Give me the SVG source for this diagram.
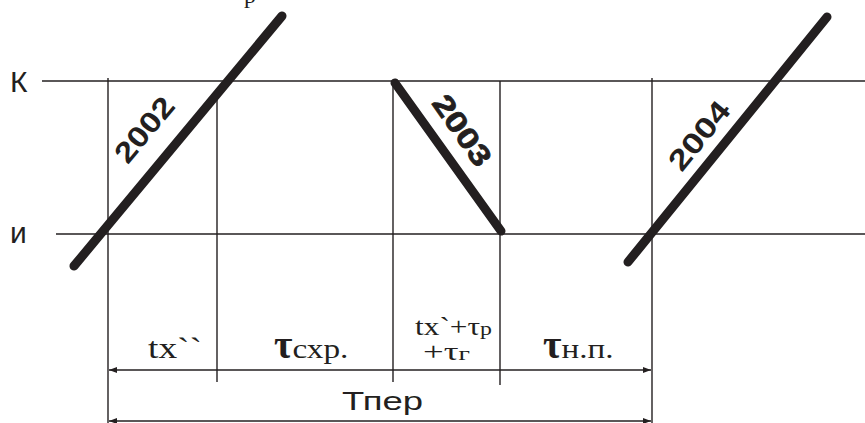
<svg xmlns="http://www.w3.org/2000/svg" width="865" height="423" viewBox="0 0 865 423">
<defs>
<style>
.thin{stroke:#231f20;stroke-width:1.4;fill:none}
.thick{stroke:#231f20;stroke-width:9;stroke-linecap:round;fill:none}
.sans{font-family:"Liberation Sans",Arial,sans-serif;fill:#231f20}
.serif{font-family:"Liberation Serif","Times New Roman",serif;fill:#231f20}
.yr{font-family:"Liberation Sans",Arial,sans-serif;font-weight:bold;fill:#231f20;font-size:29px}
.tau{font-weight:bold}
</style>
<marker id="ah" viewBox="0 0 8 6" refX="8" refY="3" markerWidth="8" markerHeight="6" markerUnits="userSpaceOnUse" orient="auto-start-reverse">
<path d="M0,0 L8,3 L0,6 z" fill="#231f20"/>
</marker>
</defs>
<rect width="865" height="423" fill="#fff"/>
<text class="serif" x="244" y="3" font-size="24">р</text>
<g id="axes">
<text class="sans" x="10" y="92" font-size="30">К</text>
<text class="sans" x="10" y="243" font-size="30">и</text>
</g>
<g id="connectors">
<line class="thin" x1="42" y1="81" x2="865" y2="81"/>
<line class="thin" x1="56" y1="234" x2="865" y2="234"/>
<line class="thin" x1="108" y1="78" x2="108" y2="423"/>
<line class="thin" x1="217" y1="98" x2="217" y2="382"/>
<line class="thin" x1="393" y1="81" x2="393" y2="382"/>
<line class="thin" x1="500" y1="81" x2="500" y2="385"/>
<line class="thin" x1="652" y1="78" x2="652" y2="423"/>
<line class="thin" x1="109" y1="370" x2="651" y2="370" marker-start="url(#ah)" marker-end="url(#ah)"/>
<line class="thin" x1="109" y1="421" x2="651" y2="421" marker-start="url(#ah)" marker-end="url(#ah)"/>
</g>
<g id="train2002">
<line class="thick" x1="74" y1="266" x2="282" y2="16"/>
<text class="yr" transform="translate(152,136) rotate(-50.3)" text-anchor="middle" textLength="76" lengthAdjust="spacingAndGlyphs">2002</text>
</g>
<g id="train2003">
<line class="thick" x1="395" y1="83" x2="501" y2="231"/>
<text class="yr" font-weight="normal" stroke="#231f20" stroke-width="0.8" transform="translate(454,136) rotate(55)" text-anchor="middle" textLength="80" lengthAdjust="spacingAndGlyphs">2003</text>
</g>
<g id="train2004">
<line class="thick" x1="628" y1="262" x2="827" y2="17"/>
<text class="yr" transform="translate(707,142) rotate(-50.9)" text-anchor="middle" textLength="80" lengthAdjust="spacingAndGlyphs">2004</text>
</g>
<g id="labels">
<text class="serif" x="148" y="358" font-size="30" textLength="54" lengthAdjust="spacingAndGlyphs">tx``</text>
<text class="serif" x="274" y="358"><tspan class="tau" font-size="40">τ</tspan><tspan font-size="28" textLength="56" lengthAdjust="spacingAndGlyphs">схр.</tspan></text>
<text class="serif" x="415" y="335" font-size="25" textLength="77" lengthAdjust="spacingAndGlyphs">tx`+τ<tspan font-size="19">р</tspan></text>
<text class="serif" x="423" y="360" font-size="25" textLength="47" lengthAdjust="spacingAndGlyphs">+τ<tspan font-size="19">г</tspan></text>
<text class="serif" x="543" y="358"><tspan class="tau" font-size="40">τ</tspan><tspan font-size="27" textLength="52" lengthAdjust="spacingAndGlyphs">н.п.</tspan></text>
<text class="sans" x="342" y="410" font-size="26" textLength="81" lengthAdjust="spacingAndGlyphs">Тпер</text>
</g>
</svg>
